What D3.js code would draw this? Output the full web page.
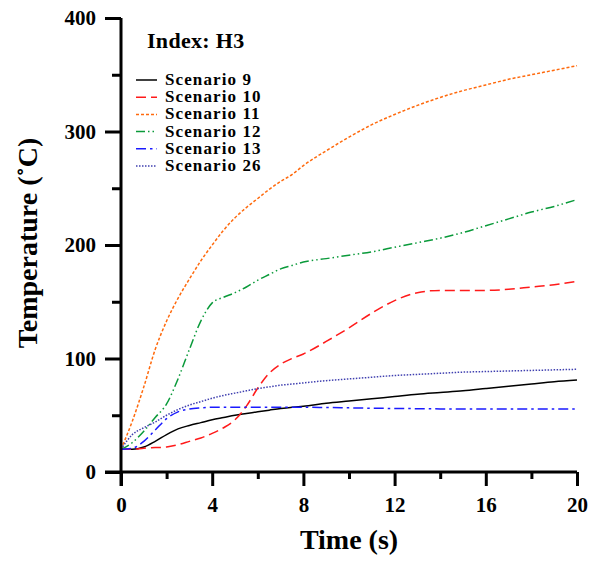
<!DOCTYPE html>
<html>
<head>
<meta charset="utf-8">
<script src="https://cdn.jsdelivr.net/npm/d3@7"></script>
<style>
  body { margin: 0; background: #fff; }
  svg { display: block; }
</style>
</head>
<body>
<div id="chart"></div>
<script>
// time samples (s)
const times = [0, 0.5, 1, 1.5, 2, 2.5, 3, 3.5, 4, 4.5, 5, 5.5, 6, 6.5, 7, 7.5, 8,
  9, 10, 11, 12, 13, 14, 15, 16, 17, 18, 19, 20];

const scenario9 = [20, 20, 22, 27, 33, 38, 41, 43.5, 46, 48, 50, 51.5, 53, 54.5, 56, 57, 58,
  60.5, 62.5, 64.5, 66.5, 68.5, 70, 71.5, 73.5, 75.5, 77.5, 79.5, 81];
const scenario10 = [20, 20, 21, 21.5, 22, 24, 27, 30, 34, 39, 46, 58, 74, 87, 95, 100, 104,
  115, 127, 140, 151, 158, 160, 160, 160, 161, 163, 165, 168];
const scenario11 = [20, 45, 75, 108, 133, 153, 170, 186, 200, 213, 224, 233, 241, 249, 256, 262, 270,
  283, 295, 306, 315, 323, 330, 336, 341, 346, 350, 354, 358];
const scenario12 = [20, 26, 36, 48, 60, 82, 108, 133, 149, 154, 158, 163, 169, 174, 179, 182, 185,
  188, 191, 194, 198, 202, 206, 211, 217, 223, 229, 234, 240];
const scenario13 = [20, 21, 27, 37, 47, 53, 55.5, 56.5, 57, 57, 57, 57, 57, 57, 57, 57, 57,
  56.8, 56.5, 56.2, 56, 55.8, 55.6, 55.5, 55.5, 55.5, 55.5, 55.5, 55.5];
const scenario26 = [20, 33, 39, 44, 50, 55, 59, 62, 65, 67.5, 69.5, 71.5, 73.5, 75, 76.5, 77.5, 78.5,
  80.5, 82, 83.5, 85, 86, 87, 88, 88.5, 89, 89.5, 90, 90.5];

const seriesNames = ["Scenario 9", "Scenario 10", "Scenario 11", "Scenario 12", "Scenario 13", "Scenario 26"];
const seriesValues = [scenario9, scenario10, scenario11, scenario12, scenario13, scenario26];
const seriesColors = ["#000000", "#ff1a1a", "#ff6a0d", "#0a9a3a", "#1a1aff", "#4040b0"];
const seriesDash = ["none", "10,5", "3,2", "9,3,1.5,3,1.5,3", "10,4,2.5,4", "1.5,1.5"];

const xMajor = [0, 4, 8, 12, 16, 20];
const xMinor = [2, 6, 10, 14, 18];
const yMajor = [0, 100, 200, 300, 400];
const yMinor = [50, 150, 250, 350];

const width = 600;
const height = 569;
const margin = { top: 18, right: 23, bottom: 97, left: 121 };
const font = "'Liberation Serif', 'Times New Roman', Times, serif";

const x = d3.scaleLinear()
  .domain([0, 20])
  .range([margin.left, width - margin.right]);

const y = d3.scaleLinear()
  .domain([0, 400])
  .range([height - margin.bottom, margin.top]);

const svg = d3.select("#chart")
  .append("svg")
  .attr("width", width)
  .attr("height", height)
  .attr("viewBox", [0, 0, width, height]);

// lines
const line = d3.line()
  .x((d, i) => x(times[i]))
  .y(d => y(d))
  .curve(d3.curveMonotoneX);

seriesValues.forEach((vals, i) => {
  svg.append("path")
    .attr("d", line(vals))
    .attr("fill", "none")
    .attr("stroke", seriesColors[i])
    .attr("stroke-width", 1.5)
    .attr("stroke-dasharray", seriesDash[i]);
});

// axes
const xAxis = svg.append("g")
  .attr("transform", `translate(0,${y(0)})`)
  .call(d3.axisBottom(x).tickValues(xMajor).tickSize(14).tickPadding(11).tickFormat(d3.format("d")));
const xAxisMinor = svg.append("g")
  .attr("transform", `translate(0,${y(0)})`)
  .call(d3.axisBottom(x).tickValues(xMinor).tickSize(7).tickFormat(""));

const yAxis = svg.append("g")
  .attr("transform", `translate(${x(0)},0)`)
  .call(d3.axisLeft(y).tickValues(yMajor).tickSize(16).tickPadding(9).tickFormat(d3.format("d")));
const yAxisMinor = svg.append("g")
  .attr("transform", `translate(${x(0)},0)`)
  .call(d3.axisLeft(y).tickValues(yMinor).tickSize(9).tickFormat(""));

[xAxis, xAxisMinor, yAxis, yAxisMinor].forEach(g => {
  g.select(".domain").remove();
  g.selectAll("line").attr("stroke", "#000").attr("stroke-width", 3);
  g.selectAll("text")
    .attr("font-family", font)
    .attr("font-weight", "bold")
    .attr("font-size", "21px")
    .attr("fill", "#000");
});

// axis lines extended past the origin
svg.append("line")
  .attr("x1", x(0) - 16).attr("x2", x(20))
  .attr("y1", y(0)).attr("y2", y(0))
  .attr("stroke", "#000").attr("stroke-width", 3);
svg.append("line")
  .attr("x1", x(0)).attr("x2", x(0))
  .attr("y1", y(400)).attr("y2", y(0) + 14)
  .attr("stroke", "#000").attr("stroke-width", 3);

// axis titles
svg.append("text")
  .attr("x", (x(0) + x(20)) / 2)
  .attr("y", 549)
  .attr("text-anchor", "middle")
  .attr("font-family", font)
  .attr("font-weight", "bold")
  .attr("font-size", "28px")
  .text("Time (s)");

svg.append("text")
  .attr("transform", "translate(37,243) rotate(-90)")
  .attr("text-anchor", "middle")
  .attr("font-family", font)
  .attr("font-weight", "bold")
  .attr("font-size", "28px")
  .text("Temperature (˚C)");

// legend
svg.append("text")
  .attr("x", 147)
  .attr("y", 48)
  .attr("font-family", font)
  .attr("font-weight", "bold")
  .attr("font-size", "22px")
  .attr("letter-spacing", "0.3px")
  .text("Index: H3");

const legend = svg.append("g");
seriesNames.forEach((name, i) => {
  const yl = 85 + i * 17.2;
  legend.append("line")
    .attr("x1", 136).attr("x2", 157)
    .attr("y1", yl - 5).attr("y2", yl - 5)
    .attr("stroke", seriesColors[i])
    .attr("stroke-width", 1.5)
    .attr("stroke-dasharray", seriesDash[i]);
  legend.append("text")
    .attr("x", 165)
    .attr("y", yl)
    .attr("font-family", font)
    .attr("font-weight", "bold")
    .attr("font-size", "17px")
    .attr("letter-spacing", "1.1px")
    .text(name);
});
</script>
</body>
</html>
